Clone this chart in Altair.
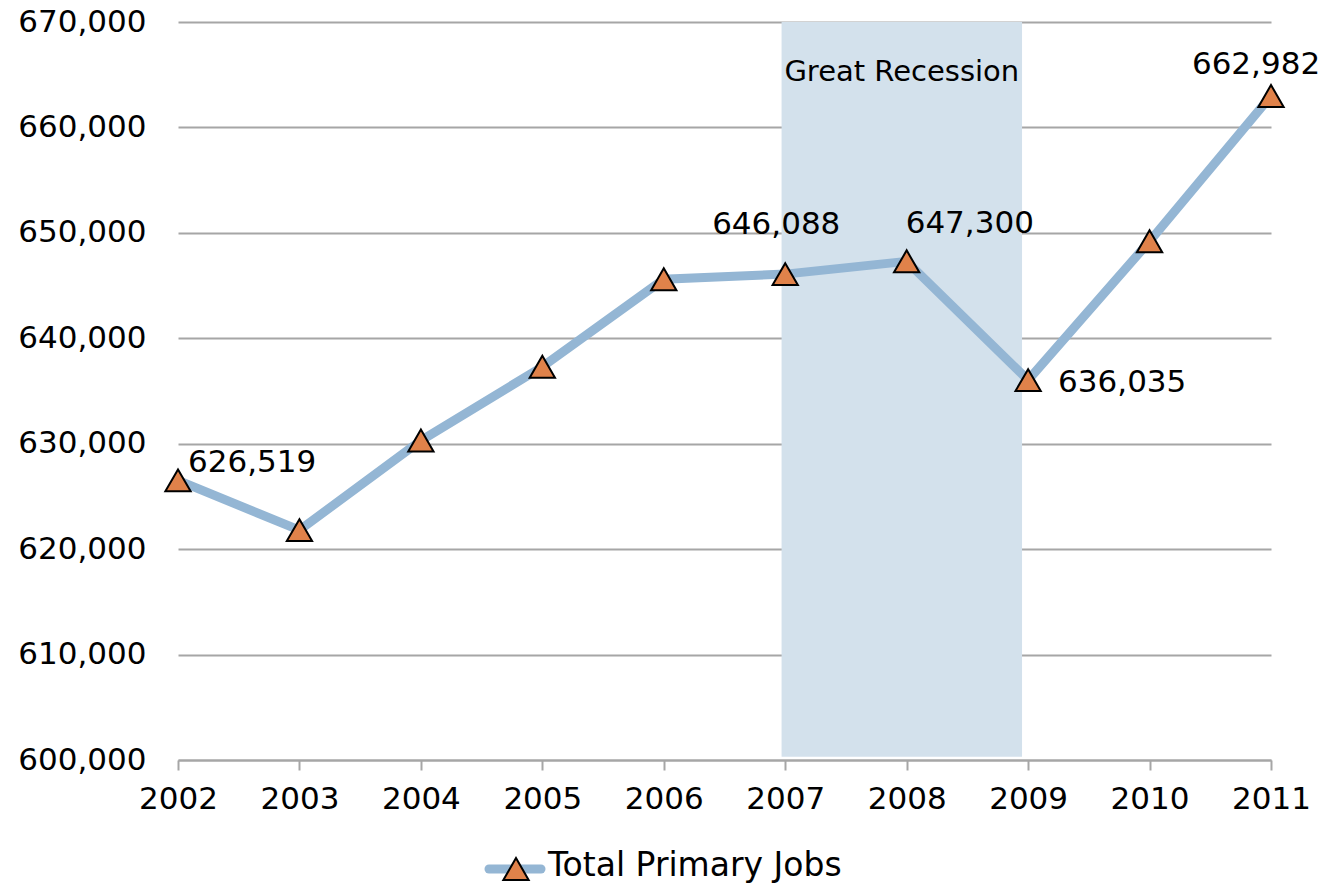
import altair as alt
import pandas as pd

years = [2002, 2003, 2004, 2005, 2006, 2007, 2008, 2009, 2010, 2011]
jobs = [626519, 621800, 630300, 637300, 645600, 646088, 647300, 636035, 649200, 662982]
labelled_years = [2002, 2007, 2008, 2009, 2011]
series_name = "Total Primary Jobs"
recession_label = "Great Recession"
recession_start = 2006.97
recession_end = 2008.95
y_ticks = [600000, 610000, 620000, 630000, 640000, 650000, 660000, 670000]

FONT = "DejaVu Sans"
LINE_COLOR = "#94B6D4"
MARK_COLOR = "#E0824A"
BAND_COLOR = "#D3E1EC"
GRID_COLOR = "#A6A6A6"

df = pd.DataFrame({"year": years, "jobs": jobs})
df["label"] = df["jobs"].map(lambda v: f"{v:,}")
band_df = pd.DataFrame({"start": [recession_start], "end": [recession_end],
                        "lo": [600300], "hi": [670000], "text": [recession_label]})

x_scale = alt.Scale(domain=[2002, 2011], nice=False, zero=False)
y_scale = alt.Scale(domain=[600000, 670000], nice=False, zero=False)

x_axis = alt.Axis(values=years, format="d", grid=False,
                  domainColor=GRID_COLOR, domainWidth=2,
                  tickColor=GRID_COLOR, tickWidth=2, tickSize=10,
                  labelFont=FONT, labelFontSize=31, labelColor="black",
                  labelPadding=14, labelFlush=False)
y_axis = alt.Axis(values=y_ticks, format=",d", grid=True,
                  gridColor=GRID_COLOR, gridWidth=2, domain=False,
                  ticks=False, labelFont=FONT, labelFontSize=31,
                  labelColor="black", labelPadding=32)

band = alt.Chart(band_df).mark_rect(color=BAND_COLOR).encode(
    x=alt.X("start:Q", scale=x_scale, axis=x_axis, title=None), x2="end:Q",
    y=alt.Y("lo:Q", scale=y_scale, axis=y_axis, title=None), y2="hi:Q")

band_text = alt.Chart(band_df).transform_calculate(
    mid="(datum.start + datum.end) / 2").mark_text(
    font=FONT, fontSize=29, color="black", baseline="middle", align="center", dy=50
).encode(x=alt.X("mid:Q", scale=x_scale, axis=x_axis, title=None),
         y=alt.Y("hi:Q", scale=y_scale, axis=y_axis, title=None), text="text:N")

line = alt.Chart(df).mark_line(color=LINE_COLOR, strokeWidth=9).encode(
    x=alt.X("year:Q", scale=x_scale, axis=x_axis, title=None),
    y=alt.Y("jobs:Q", scale=y_scale, axis=y_axis, title=None))

points = alt.Chart(df).mark_point(shape="triangle-up", size=640, filled=True,
                                  fill=MARK_COLOR, stroke="black", strokeWidth=2,
                                  opacity=1).encode(
    x=alt.X("year:Q", scale=x_scale, axis=x_axis, title=None),
    y=alt.Y("jobs:Q", scale=y_scale, axis=y_axis, title=None))

label_style = {
    2002: dict(align="left", dx=10, dy=-8),
    2007: dict(align="center", dx=-9, dy=-40),
    2008: dict(align="left", dx=-1, dy=-28),
    2009: dict(align="left", dx=30, dy=12),
    2011: dict(align="center", dx=-15, dy=-22),
}
label_layers = []
for yr in labelled_years:
    st = label_style[yr]
    label_layers.append(
        alt.Chart(df).transform_filter(alt.datum.year == yr).mark_text(
            font=FONT, fontSize=31, color="black", baseline="alphabetic",
            align=st["align"], dx=st["dx"], dy=st["dy"]
        ).encode(x=alt.X("year:Q", scale=x_scale, axis=x_axis, title=None),
                 y=alt.Y("jobs:Q", scale=y_scale, axis=y_axis, title=None),
                 text="label:N"))

legend_df = pd.DataFrame({"name": [series_name]})
leg_line = alt.Chart(legend_df).mark_rule(color=LINE_COLOR, strokeWidth=9, strokeCap="round").encode(
    x=alt.value(311), x2=alt.value(363), y=alt.value(847))
leg_pt = alt.Chart(legend_df).mark_point(shape="triangle-up", size=640, filled=True,
                                         fill=MARK_COLOR, stroke="black", strokeWidth=2,
                                         opacity=1).encode(x=alt.value(338), y=alt.value(847))
leg_text = alt.Chart(legend_df).mark_text(font=FONT, fontSize=33, color="black",
                                          align="left", baseline="middle").encode(
    x=alt.value(370), y=alt.value(844), text="name:N")

chart = alt.layer(band, band_text, line, points, *label_layers, leg_line, leg_pt, leg_text).properties(
    width=1093, height=738,
    autosize=alt.AutoSizeParams(type="none"),
    padding={"left": 170, "top": 14, "right": 62, "bottom": 123},
).configure_view(stroke=None)

chart.save("out.html", embed_options={"renderer": "svg", "actions": False})
